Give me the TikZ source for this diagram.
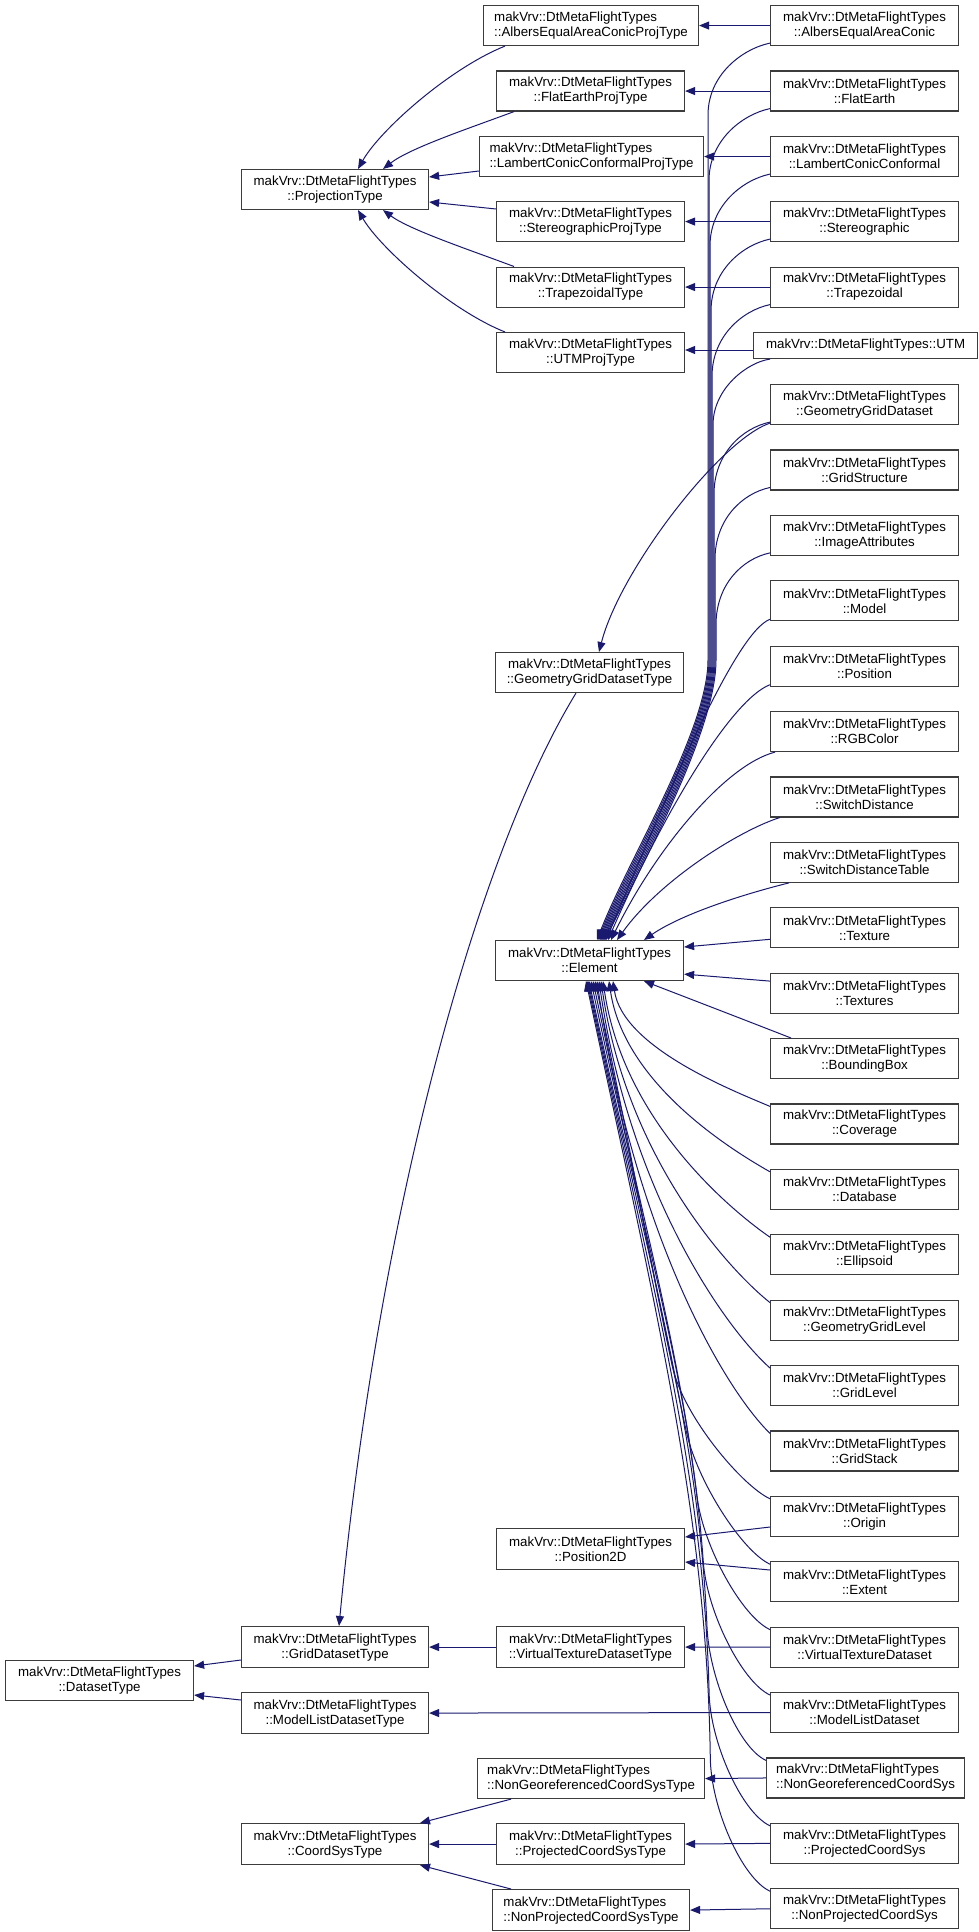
\documentclass[tikz,border=0pt]{standalone}
\usepackage{fontspec}
\setmainfont{Liberation Sans}
\usetikzlibrary{arrows.meta}
\definecolor{edgecol}{RGB}{25,25,112}
\definecolor{boxcol}{RGB}{60,60,60}
\newcommand{\boxfont}{\fontsize{13.3}{15}\selectfont}
\begin{document}
\begin{tikzpicture}[x=1pt,y=-1pt,
  box/.style={draw=boxcol, line width=1.1pt, fill=white, inner sep=0pt, anchor=north west,
              font=\boxfont, align=center, minimum height=40pt},
  lbox/.style={box, align=left},
  redge/.style={draw=edgecol, line width=1pt, {Triangle[length=10pt,width=8pt]}-}]
\useasboundingbox (0,0) rectangle (979,1932);
\fill[white] (0,0) rectangle (979,1932);

% column 1
\node[box, minimum width=188pt] (dataset) at (5,1660) {makVrv::DtMetaFlightTypes\\::DatasetType};
% column 2
\node[box, minimum width=187pt] (projection) at (241,169) {makVrv::DtMetaFlightTypes\\::ProjectionType};
\node[box, minimum width=187pt, minimum height=41pt] (griddataset) at (241,1626) {makVrv::DtMetaFlightTypes\\::GridDatasetType};
\node[box, minimum width=187pt, minimum height=41pt] (modellistT) at (241,1692) {makVrv::DtMetaFlightTypes\\::ModelListDatasetType};
\node[box, minimum width=187pt, minimum height=41pt] (coordsys) at (241,1823) {makVrv::DtMetaFlightTypes\\::CoordSysType};
% column 3
\node[lbox, minimum width=215pt] (albersT) at (483,5) {makVrv::DtMetaFlightTypes\\::AlbersEqualAreaConicProjType};
\node[box, minimum width=188pt] (flatT) at (496,70.5) {makVrv::DtMetaFlightTypes\\::FlatEarthProjType};
\node[lbox, minimum width=224pt] (lambertT) at (479,136) {makVrv::DtMetaFlightTypes\\::LambertConicConformalProjType};
\node[box, minimum width=188pt] (stereoT) at (496,201) {makVrv::DtMetaFlightTypes\\::StereographicProjType};
\node[box, minimum width=188pt] (trapT) at (496,266.5) {makVrv::DtMetaFlightTypes\\::TrapezoidalType};
\node[box, minimum width=188pt] (utmT) at (496,332) {makVrv::DtMetaFlightTypes\\::UTMProjType};
\node[box, minimum width=188pt] (geomgridT) at (495,652) {makVrv::DtMetaFlightTypes\\::GeometryGridDatasetType};
\node[box, minimum width=188pt] (element) at (495,940) {makVrv::DtMetaFlightTypes\\::Element};
\node[box, minimum width=188pt, minimum height=41pt] (position2d) at (496,1528) {makVrv::DtMetaFlightTypes\\::Position2D};
\node[box, minimum width=188pt, minimum height=41pt] (vtdT) at (496,1626) {makVrv::DtMetaFlightTypes\\::VirtualTextureDatasetType};
\node[lbox, minimum width=227pt] (nongeoT) at (477,1758) {makVrv::DtMetaFlightTypes\\::NonGeoreferencedCoordSysType};
\node[box, minimum width=188pt, minimum height=41pt] (projT) at (496,1823) {makVrv::DtMetaFlightTypes\\::ProjectedCoordSysType};
\node[lbox, minimum width=197pt, minimum height=41pt] (nonprojT) at (492,1889) {makVrv::DtMetaFlightTypes\\::NonProjectedCoordSysType};
% column 4
\node[box, minimum width=188pt] (r0) at (770,5) {makVrv::DtMetaFlightTypes\\::AlbersEqualAreaConic};
\node[box, minimum width=188pt] (r1) at (770,70.5) {makVrv::DtMetaFlightTypes\\::FlatEarth};
\node[box, minimum width=188pt] (r2) at (770,136) {makVrv::DtMetaFlightTypes\\::LambertConicConformal};
\node[box, minimum width=188pt] (r3) at (770,201) {makVrv::DtMetaFlightTypes\\::Stereographic};
\node[box, minimum width=188pt] (r4) at (770,266.5) {makVrv::DtMetaFlightTypes\\::Trapezoidal};
\node[box, minimum width=224pt, minimum height=26pt] (r5) at (753,332) {makVrv::DtMetaFlightTypes::UTM};
\node[box, minimum width=188pt] (r6) at (770,384) {makVrv::DtMetaFlightTypes\\::GeometryGridDataset};
\node[box, minimum width=188pt] (r7) at (770,449.4) {makVrv::DtMetaFlightTypes\\::GridStructure};
\node[box, minimum width=188pt] (r8) at (770,514.8) {makVrv::DtMetaFlightTypes\\::ImageAttributes};
\node[box, minimum width=188pt] (r9) at (770,580.2) {makVrv::DtMetaFlightTypes\\::Model};
\node[box, minimum width=188pt] (r10) at (770,645.6) {makVrv::DtMetaFlightTypes\\::Position};
\node[box, minimum width=188pt] (r11) at (770,711) {makVrv::DtMetaFlightTypes\\::RGBColor};
\node[box, minimum width=188pt] (r12) at (770,776.4) {makVrv::DtMetaFlightTypes\\::SwitchDistance};
\node[box, minimum width=188pt] (r13) at (770,841.8) {makVrv::DtMetaFlightTypes\\::SwitchDistanceTable};
\node[box, minimum width=188pt] (r14) at (770,907.2) {makVrv::DtMetaFlightTypes\\::Texture};
\node[box, minimum width=188pt] (r15) at (770,972.6) {makVrv::DtMetaFlightTypes\\::Textures};
\node[box, minimum width=188pt] (r16) at (770,1038) {makVrv::DtMetaFlightTypes\\::BoundingBox};
\node[box, minimum width=188pt] (r17) at (770,1103.4) {makVrv::DtMetaFlightTypes\\::Coverage};
\node[box, minimum width=188pt] (r18) at (770,1168.8) {makVrv::DtMetaFlightTypes\\::Database};
\node[box, minimum width=188pt] (r19) at (770,1234.2) {makVrv::DtMetaFlightTypes\\::Ellipsoid};
\node[box, minimum width=188pt] (r20) at (770,1299.6) {makVrv::DtMetaFlightTypes\\::GeometryGridLevel};
\node[box, minimum width=188pt] (r21) at (770,1365) {makVrv::DtMetaFlightTypes\\::GridLevel};
\node[box, minimum width=188pt] (r22) at (770,1430.4) {makVrv::DtMetaFlightTypes\\::GridStack};
\node[box, minimum width=188pt] (r23) at (770,1495.8) {makVrv::DtMetaFlightTypes\\::Origin};
\node[box, minimum width=188pt] (r24) at (770,1561.2) {makVrv::DtMetaFlightTypes\\::Extent};
\node[box, minimum width=188pt] (r25) at (770,1626.6) {makVrv::DtMetaFlightTypes\\::VirtualTextureDataset};
\node[box, minimum width=188pt] (r26) at (770,1692) {makVrv::DtMetaFlightTypes\\::ModelListDataset};
\node[lbox, minimum width=198pt] (r27) at (766,1757.4) {makVrv::DtMetaFlightTypes\\::NonGeoreferencedCoordSys};
\node[box, minimum width=188pt] (r28) at (770,1822.8) {makVrv::DtMetaFlightTypes\\::ProjectedCoordSys};
\node[box, minimum width=188pt] (r29) at (770,1888.2) {makVrv::DtMetaFlightTypes\\::NonProjectedCoordSys};

% ProjectionType subclasses
\draw[redge] (projection.north -| 358,0) .. controls (380,130) and (450,68) .. (albersT.south west -| 505,0);
\draw[redge] (projection.north -| 383,0) .. controls (410,148) and (470,128) .. (flatT.south west -| 514,0);
\draw[redge] (projection.east |- 0,177) -- (lambertT.west |- 0,171);
\draw[redge] (projection.east |- 0,202) -- (stereoT.west |- 0,209);
\draw[redge] (projection.south -| 383,0) .. controls (410,230) and (470,250) .. (trapT.north west -| 514,0);
\draw[redge] (projection.south -| 358,0) .. controls (380,248) and (450,310) .. (utmT.north west -| 505,0);

% column 4 -> column 3 straight
\draw[redge] (albersT.east) -- (r0.west);
\draw[redge] (flatT.east) -- (r1.west);
\draw[redge] (lambertT.east) -- (r2.west);
\draw[redge] (stereoT.east) -- (r3.west);
\draw[redge] (trapT.east) -- (r4.west);
\draw[redge] (utmT.east |- 0,350) -- (r5.west |- 0,350);
\draw[redge] (vtdT.east) -- (r25.west);
\draw[redge] (griddataset.east) -- (vtdT.west);
\draw[redge] (modellistT.east) -- (r26.west);
\draw[redge] (nongeoT.east) -- (r27.west);
\draw[redge] (projT.east) -- (r28.west);
\draw[redge] (coordsys.east) -- (projT.west);
\draw[redge] (nonprojT.east) -- (r29.west);
\draw[redge] (coordsys.north -| 420,0) -- (nongeoT.south west -| 511,0);
\draw[redge] (coordsys.south -| 420,0) -- (nonprojT.north west -| 511,0);
\draw[redge] (dataset.east |- 0,1666) -- (griddataset.west |- 0,1660);
\draw[redge] (dataset.east |- 0,1695) -- (modellistT.west |- 0,1700);
\draw[redge] (position2d.east |- 0,1537) -- (r23.west |- 0,1527);
\draw[redge] (position2d.east |- 0,1562) -- (r24.west |- 0,1570);

% GeometryGridDataset chain
\draw[redge] (geomgridT.north -| 599,0) .. controls (620,570) and (720,440) .. ([yshift=2pt]r6.south west);
\draw[redge] (griddataset.north -| 339,0) .. controls (380,1200) and (480,850) .. (geomgridT.south -| 576,0);

% Element: upper subclasses
\foreach \k/\yb/\tx/\ex/\cx in {0/45/708/597/628,1/110.5/709/598/630,2/176/710/599/632,3/241/711/600/634,4/306.5/712/601/636,6/424/714/603/640,7/489.4/715/604/642,8/554.8/716/605/644}
  \draw[redge] (element.north -| \ex,0) .. controls (\cx,860) and (\tx,730) .. (\tx,660) -- (\tx,\yb+70) .. controls (\tx,\yb+30) and (742,\yb+4) .. ([yshift=3pt]r\k.south west);
\draw[redge] (element.north -| 602,0) .. controls (638,860) and (713,730) .. (713,660) -- (713,425) .. controls (713,388) and (748,362) .. ([xshift=17pt]r5.south west);
\draw[redge] (element.north -| 606,0) .. controls (665,800) and (735,632) .. ([yshift=2pt]r9.south west);
\draw[redge] (element.north -| 608,0) .. controls (660,820) and (730,700) .. ([yshift=2pt]r10.south west);
\draw[redge] (element.north -| 611,0) .. controls (655,850) and (725,765) .. ([xshift=5pt]r11.south west);
\draw[redge] (element.north -| 617,0) .. controls (660,880) and (740,830) .. ([xshift=10pt]r12.south west);
\draw[redge] (element.north -| 644,0) .. controls (680,915) and (740,895) .. ([xshift=19pt]r13.south west);
\draw[redge] ([yshift=-7pt]element.north east) -- ([yshift=9pt]r14.south west);
\draw[redge] ([yshift=7pt]element.south east) -- ([yshift=-8.5pt]r15.north west);
% Element: lower subclasses, individual curves
\draw[redge] (element.south -| 644,0) .. controls (680,995) and (745,1020) .. ([xshift=21pt]r16.north west);
\foreach \k/\yt/\ex in {17/1103.4/613,18/1168.8/609,19/1234.2/603,20/1299.6/601,21/1365/599,22/1430.4/597}{
  \pgfmathsetmacro{\dd}{\yt-980}
  \draw[redge] (element.south -| \ex,0) .. controls (\ex+0.08*\dd, 980+0.55*\dd) and (739-0.04*\dd, \yt-0.1*\dd) .. ([yshift=-3pt]r\k.north west);
}
% Element: lower subclasses, bundled curves
\foreach \k/\yt/\ex/\yp/\bx/\s/\cx in {23/1495.8/595/1366/672.3/0.2136/742,24/1561.2/593/1431/686.2/0.2136/742,25/1626.6/591/1497/697.1/0.124/742,26/1692/589/1562/703.3/0.072/742,27/1757.4/588/1627/707/0.042/738,28/1822.8/587/1693/709.1/0.024/742,29/1888.2/586/1758/710.3/0.014/742}{
  \pgfmathsetmacro{\aa}{min(0.45*(\yp-980),350)}
  \pgfmathsetmacro{\bb}{0.3*(\yp-980)}
  \draw[redge] (element.south -| \ex,0) .. controls (\ex+0.2136*\aa, 980+\aa) and (\bx-\s*\bb, \yp-\bb) .. (\bx,\yp)
     .. controls (\bx+\s*50, \yp+50) and (\cx,\yt-10) .. ([yshift=-3pt]r\k.north west);
}
\end{tikzpicture}
\end{document}
